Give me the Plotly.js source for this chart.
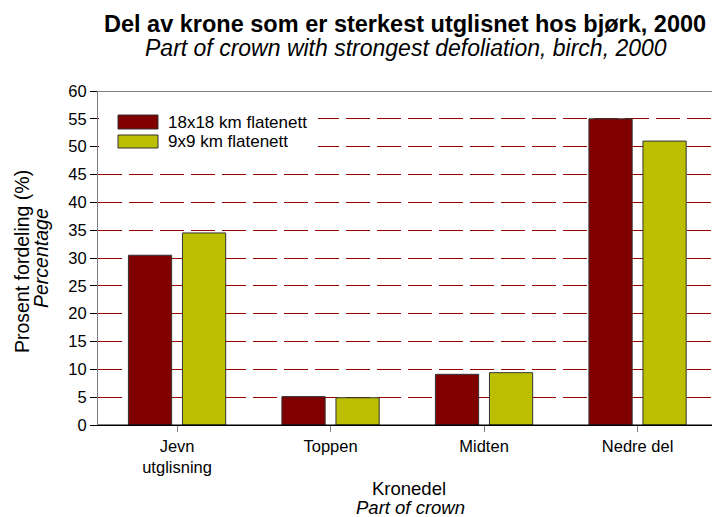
<!DOCTYPE html>
<html>
<head>
<meta charset="utf-8">
<script src="https://cdn.plot.ly/plotly-3.0.1.min.js"></script>
<style>html,body{margin:0;padding:0;background:#fff;}</style>
</head>
<body>
<div id="chart" style="width:712px;height:517px;"></div>
<script>
const categories = ["Jevn<br>utglisning", "Toppen", "Midten", "Nedre del"];
const seriesNames = ["18x18 km flatenett", "9x9 km flatenett"];
const values18 = [30.5, 5.1, 9.1, 55];
const values9 = [34.5, 4.9, 9.4, 51];
const yTicks = [0, 5, 10, 15, 20, 25, 30, 35, 40, 45, 50, 55, 60];

const colors = ["#800000", "#BBBF00"];
const font = "Liberation Sans, Arial, sans-serif";
const H = 334; // plot height in px
const py = p => 1 - (p - 91) / H;
const px = p => (p - 98) / 614;

const traces = [
  {type: "bar", x: categories, y: values18, name: seriesNames[0],
   marker: {color: colors[0], line: {color: "#333333", width: 1}}, showlegend: false},
  {type: "bar", x: categories, y: values9, name: seriesNames[1],
   marker: {color: colors[1], line: {color: "#333333", width: 1}}, showlegend: false}
];

const layout = {
  width: 712, height: 517,
  margin: {l: 98, r: 0, t: 91, b: 92},
  paper_bgcolor: "#fff", plot_bgcolor: "#fff",
  font: {family: font, size: 16.5, color: "#000"},
  barmode: "group", bargap: 0.296, bargroupgap: 0.2,
  xaxis: {
    type: "category", range: [-0.515, 3.485],
    showline: true, linecolor: "#000", linewidth: 1,
    ticks: "outside", ticklen: 6, tickcolor: "#808080",
    showgrid: false, tickfont: {size: 16.5}, zeroline: false
  },
  yaxis: {
    range: [0, 60], tickvals: yTicks, ticktext: yTicks.map(String),
    showline: true, linecolor: "#808080", linewidth: 1,
    ticks: "outside", ticklen: 7, tickcolor: "#000",
    showgrid: true, gridcolor: "#990000", gridwidth: 1, griddash: "24px,7px",
    zeroline: false, tickfont: {size: 16.5}
  },
  shapes: [
    {type: "line", xref: "paper", yref: "y", x0: 0, x1: 1, y0: 60, y1: 60, line: {color: "#000", width: 1}},
    {type: "line", xref: "paper", yref: "y", x0: 0, x1: 1, y0: 0, y1: 0, line: {color: "#000", width: 1}},
    {type: "rect", xref: "paper", yref: "paper", x0: px(99), x1: px(318), y0: py(155), y1: py(105), fillcolor: "#fff", line: {width: 0}, layer: "above"},
    {type: "rect", xref: "paper", yref: "paper", x0: px(118), x1: px(158), y0: py(129), y1: py(115), fillcolor: colors[0], line: {color: "#333", width: 1}, layer: "above"},
    {type: "rect", xref: "paper", yref: "paper", x0: px(118), x1: px(158), y0: py(148), y1: py(135), fillcolor: colors[1], line: {color: "#333", width: 1}, layer: "above"}
  ],
  annotations: [
    {text: "<b>Del av krone som er sterkest utglisnet hos bjørk, 2000</b>", xref: "paper", yref: "paper", x: px(405), y: py(24), xanchor: "center", yanchor: "middle", showarrow: false, font: {size: 23.5}},
    {text: "<i>Part of crown with strongest defoliation, birch, 2000</i>", xref: "paper", yref: "paper", x: px(406), y: py(48), xanchor: "center", yanchor: "middle", showarrow: false, font: {size: 23}},
    {text: seriesNames[0], xref: "paper", yref: "paper", x: px(166), y: py(122), xanchor: "left", yanchor: "middle", showarrow: false, font: {size: 17}},
    {text: seriesNames[1], xref: "paper", yref: "paper", x: px(166), y: py(141), xanchor: "left", yanchor: "middle", showarrow: false, font: {size: 17}},
    {text: "Prosent fordeling (%)", xref: "paper", yref: "paper", x: px(22), y: py(262), xanchor: "center", yanchor: "middle", textangle: -90, showarrow: false, font: {size: 19.5}},
    {text: "<i>Percentage</i>", xref: "paper", yref: "paper", x: px(41), y: py(258), xanchor: "center", yanchor: "middle", textangle: -90, showarrow: false, font: {size: 19.5}},
    {text: "Kronedel", xref: "paper", yref: "paper", x: px(409), y: py(488), xanchor: "center", yanchor: "middle", showarrow: false, font: {size: 18.5}},
    {text: "<i>Part of crown</i>", xref: "paper", yref: "paper", x: px(410), y: py(507), xanchor: "center", yanchor: "middle", showarrow: false, font: {size: 18.5}}
  ]
};

Plotly.newPlot("chart", traces, layout, {displayModeBar: false, staticPlot: true});
</script>
</body>
</html>
